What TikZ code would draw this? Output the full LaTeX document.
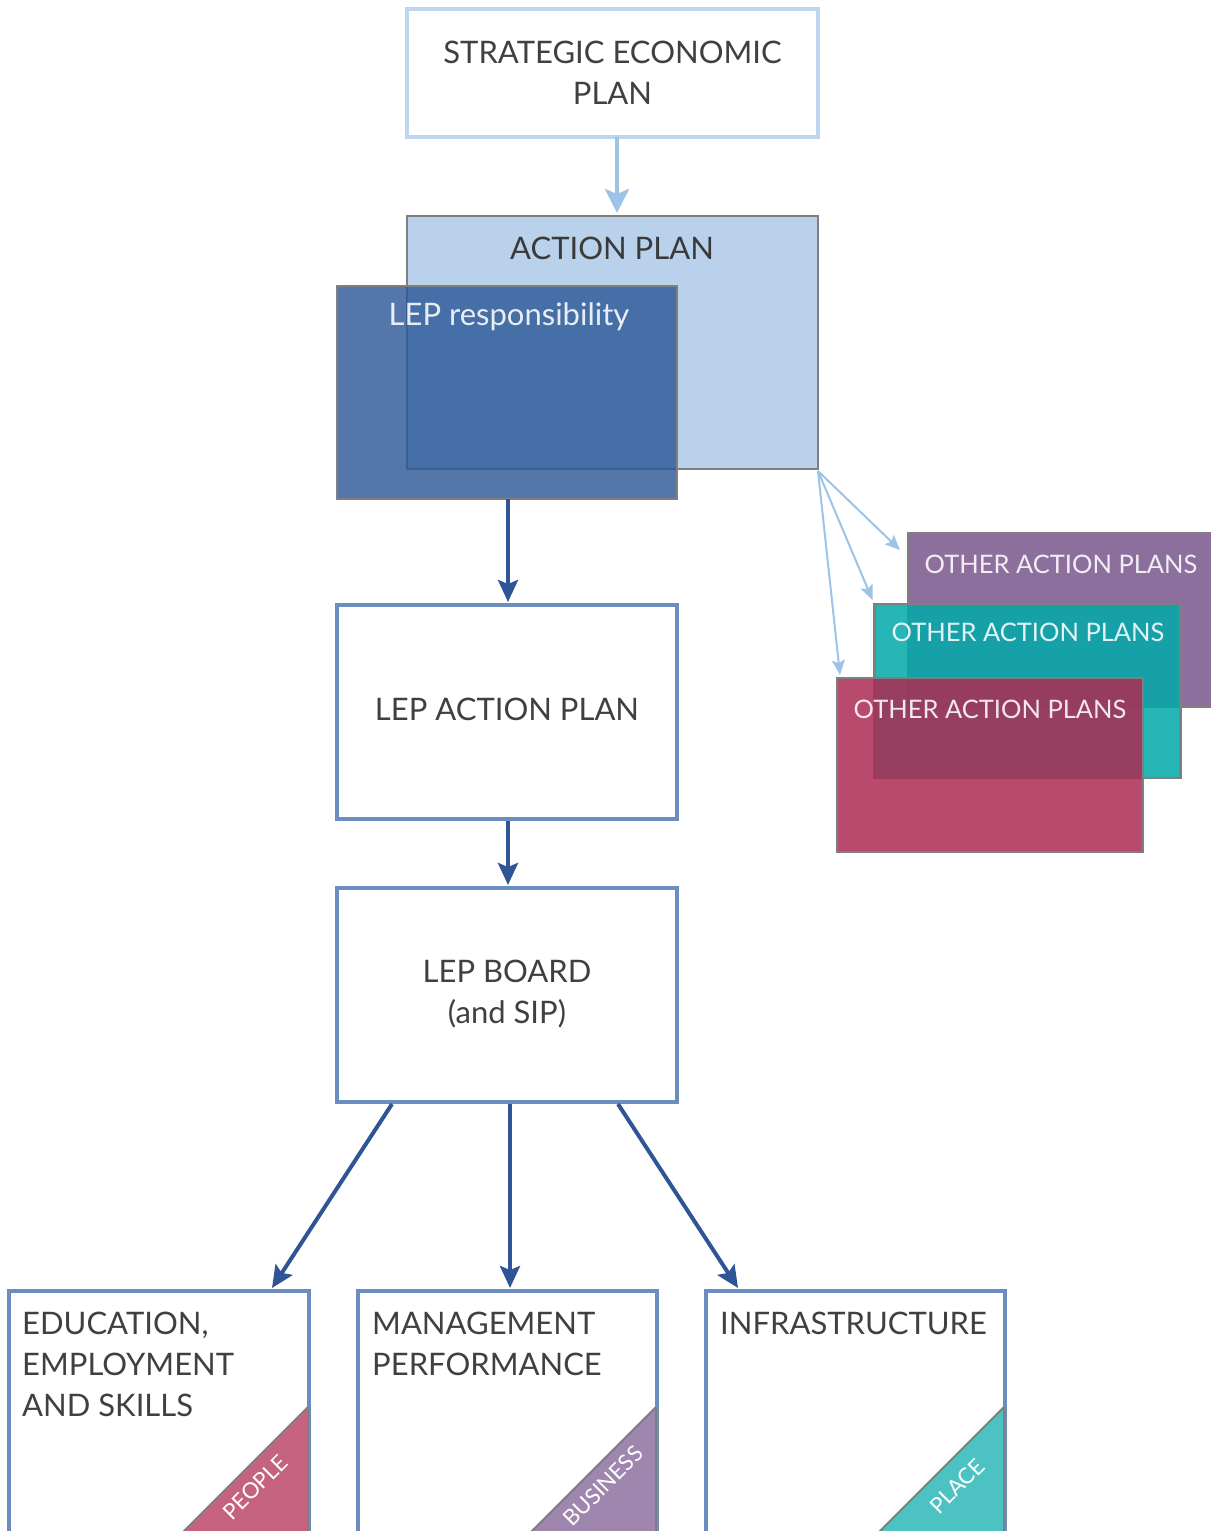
\documentclass[tikz,border=0pt]{standalone}
\usepackage{fontspec}
\setmainfont{Lato}
\usetikzlibrary{arrows.meta,calc}
\definecolor{txt}{HTML}{404040}
\definecolor{sepline}{HTML}{BDD5EF}
\definecolor{lightarrow}{HTML}{9DC3E6}
\definecolor{apfill}{HTML}{BAD1EC}
\definecolor{greyline}{HTML}{7F7F7F}
\definecolor{lepfill}{RGB}{44,88,151}
\definecolor{darkblue}{HTML}{2F5597}
\definecolor{boxline}{HTML}{6C8EBF}
\definecolor{purplefill}{HTML}{8D6F9D}
\definecolor{tealfill}{RGB}{2,170,169}
\definecolor{pinkfill}{RGB}{172,43,83}
\definecolor{peoplec}{HTML}{C4627F}
\definecolor{businessc}{HTML}{9E86AE}
\definecolor{placec}{HTML}{4CC3C2}
\tikzset{
  x=1pt,y=-1pt,
  bigtext/.style={font=\fontsize{31}{41}\selectfont, text=txt, align=center},
  whitetext/.style={font=\fontsize{31}{41}\selectfont, text=white, text opacity=0.88},
  othertext/.style={font=\fontsize{25.5}{30}\selectfont, text=white, text opacity=0.88},
  plainbox/.style={draw=boxline, line width=4pt, fill=white, rectangle, inner sep=0pt, outer sep=0pt},
  darkarrow/.style={draw=darkblue, line width=4pt, -{Stealth[length=22pt,width=20pt,inset=4pt]}},
  lightarr/.style={draw=lightarrow, line width=2pt, -{Stealth[length=15pt,width=13pt,inset=3pt]}},
  otherbox/.style={draw=greyline, line width=2.5pt, rectangle, inner sep=0pt, outer sep=0pt, minimum width=306pt, minimum height=174pt},
  cornerlabel/.style={font=\fontsize{22}{24}\selectfont, text=white, rotate=45},
  tri/.style={draw=greyline, line width=2pt}
}
\begin{document}
\begin{tikzpicture}
\useasboundingbox (0,0) rectangle (1210,1531);
% top box
\node[draw=sepline, line width=4.5pt, fill=white, minimum width=411pt, minimum height=128pt, inner sep=0pt] (sep) at (612.5,73) {};
\node[bigtext] (septext) at (612.5,73) {STRATEGIC ECONOMIC\\PLAN};
% action plan
\node[draw=greyline, line width=2.5pt, fill=apfill, minimum width=411pt, minimum height=253pt, inner sep=0pt, outer sep=0pt] (ap) at (612.5,342.5) {};
\node[bigtext, text=txt!90!black] (aptext) at (612,248) {ACTION PLAN};
\node[draw=greyline, line width=2.5pt, fill=lepfill, fill opacity=0.81, minimum width=340pt, minimum height=213pt, inner sep=0pt, outer sep=0pt] (lepr) at (507,392.5) {};
\node[whitetext] (leprtext) at (509,317) {LEP responsibility};
\draw[draw=lightarrow, line width=4.5pt, -{Stealth[length=24pt,width=24pt,inset=5pt]}] (617,137) -- (617,213);
% other action plans
\node[otherbox, fill=purplefill, minimum width=310pt] (oap1) at (1063,620) {};
\node[otherbox, fill=tealfill, fill opacity=0.86] (oap2) at (1027.5,691) {};
\node[otherbox, fill=pinkfill, fill opacity=0.85] (oap3) at (990,765) {};
\node[othertext] (oap1t) at (1061,564) {OTHER ACTION PLANS};
\node[othertext] (oap2t) at (1028,632) {OTHER ACTION PLANS};
\node[othertext] (oap3t) at (990,709) {OTHER ACTION PLANS};
\coordinate (apc) at ($(ap.south east)+(0,2)$);
\coordinate (e1) at ($(oap1.north west)+(-8,17)$);
\coordinate (e2) at ($(oap2.north west)+(-2,-4)$);
\coordinate (e3) at ($(oap3.north west)+(3,-3)$);
\draw[lightarr] (apc) -- (e1);
\draw[lightarr] (apc) -- (e2);
\draw[lightarr] (apc) -- (e3);
% lep action plan and board
\node[plainbox, minimum width=340pt, minimum height=214pt] (lap) at (507,712) {};
\node[bigtext] (laptext) at (507,709) {LEP ACTION PLAN};
\node[plainbox, minimum width=340pt, minimum height=214pt] (board) at (507,995) {};
\node[bigtext] (boardtext) at (507,994) {LEP BOARD\\(and SIP)};
\draw[darkarrow] (lepr.south -| 508,0) -- ($(lap.north -| 508,0)+(0,-3)$);
\draw[darkarrow] ($(lap.south -| 508,0)+(0,2)$) -- ($(board.north -| 508,0)+(0,-3)$);
% bottom boxes
\node[plainbox, anchor=north west, minimum width=300pt, minimum height=300pt] (b1) at (9,1291) {};
\node[plainbox, anchor=north west, minimum width=299pt, minimum height=300pt] (b2) at (358,1291) {};
\node[plainbox, anchor=north west, minimum width=299pt, minimum height=300pt] (b3) at (706,1291) {};
\filldraw[tri, fill=peoplec] (308,1407) -- (308,1570) -- (145,1570) -- cycle;
\filldraw[tri, fill=businessc] (656,1407) -- (656,1570) -- (493,1570) -- cycle;
\filldraw[tri, fill=placec] (1004,1407) -- (1004,1570) -- (841,1570) -- cycle;
\draw[draw=boxline, line width=4pt] (309,1291) -- (309,1407);
\draw[draw=boxline, line width=4pt] (657,1291) -- (657,1407);
\draw[draw=boxline, line width=4pt] (1005,1291) -- (1005,1407);
\node[cornerlabel] (people) at (255,1487) {PEOPLE};
\node[cornerlabel] (business) at (603,1486) {BUSINESS};
\node[cornerlabel] (place) at (957,1486) {PLACE};
\node[bigtext, align=left, anchor=north west, inner sep=0pt] (b1t) at (22,1312) {EDUCATION,\\EMPLOYMENT\\AND SKILLS};
\node[bigtext, align=left, anchor=north west, inner sep=0pt] (b2t) at (372,1312) {MANAGEMENT\\PERFORMANCE};
\node[bigtext, align=left, anchor=north west, inner sep=0pt] (b3t) at (720,1312) {INFRASTRUCTURE};
% board arrows
\coordinate (s1) at ($(board.south)+(-115,2)$);
\coordinate (s2) at (510,1104);
\coordinate (s3) at ($(board.south)+(111,2)$);
\draw[darkarrow] (s1) -- ($(b1.north east)+(-37,-3)$);
\draw[darkarrow] (s2) -- (s2 |- 0,1288);
\draw[darkarrow] (s3) -- ($(b3.north west)+(32,-3)$);
\end{tikzpicture}
\end{document}
